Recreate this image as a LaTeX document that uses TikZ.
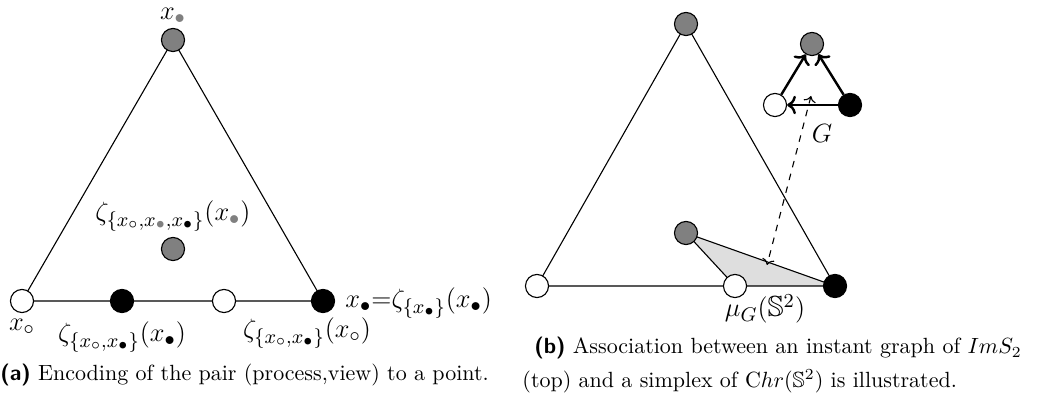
\documentclass[tikz,border=0pt]{standalone}
\usepackage{amssymb}
\usepackage{xcolor}
\usetikzlibrary{arrows.meta}
\begin{document}
\begin{tikzpicture}[x=0.4545pt,y=-0.4545pt,
  dot/.style={circle,draw,line width=0.5pt,minimum size=10.5pt,inner sep=0pt},
  wdot/.style={dot,fill=white},
  bdot/.style={dot,fill=black},
  gdot/.style={dot,fill=gray},
  edge/.style={line width=0.5pt},
  garrow/.style={line width=1.1pt,->},
  lbl/.style={inner sep=0pt,font=\fontsize{13.2}{16}\selectfont}]
\useasboundingbox (0,0) rectangle (1051,408);
% ---------- (a) ----------
\draw[edge] (173,40) -- (22,301) -- (323,301) -- cycle;
\node[gdot] (aTop) at (173,40) {};
\node[wdot] (aL) at (22,301) {};
\node[bdot] (aB1) at (122,301) {};
\node[wdot] (aW1) at (224,301) {};
\node[bdot] (aR) at (323,301) {};
\node[gdot] (aC) at (173,249) {};
\node[lbl] (lTop) at (173,16) {$x_{\textcolor{gray}{\bullet}}$};
\node[lbl] (lC) at (173,216) {$\zeta_{\{x_\circ,x_{\textcolor{gray}{\bullet}},x_\bullet\}}(x_{\textcolor{gray}{\bullet}})$};
\node[lbl] (lL) at (22,327) {$x_\circ$};
\node[lbl] (lB1) at (122,337) {$\zeta_{\{x_\circ,x_\bullet\}}(x_\bullet)$};
\node[lbl] (lW1) at (307,333) {$\zeta_{\{x_\circ,x_\bullet\}}(x_\circ)$};
\node[lbl,anchor=west] (lR) at (345,303) {$x_\bullet{=}\zeta_{\{x_\bullet\}}(x_\bullet)$};
\node[inner sep=0pt,anchor=base west] (capA) at (0,380) {{\sffamily\bfseries (a)} Encoding of the pair (process,view) to a point.};
% ---------- (b) ----------
\fill[black!13] (686,233) -- (735,286) -- (835,286) -- cycle;
\draw[edge] (686,233) -- (735,286);
\draw[edge] (686,233) -- (835,286);
\draw[edge] (686,24) -- (537,286) -- (835,286) -- cycle;
\node[gdot] (bTop) at (686,24) {};
\node[wdot] (bL) at (537,286) {};
\node[wdot] (bW) at (735,286) {};
\node[bdot] (bR) at (835,286) {};
\node[gdot] (bC) at (686,233) {};
\node[gdot] (gG) at (812,44) {};
\node[wdot] (gW) at (775,105) {};
\node[bdot] (gB) at (850,105) {};
\draw[garrow] (gW) -- (gG);
\draw[garrow] (gB) -- (gG);
\draw[garrow] (gB) -- (gW);
\coordinate (dTop) at (811,96);
\coordinate (dBot) at (767,265);
\draw[edge,dashed,<->] (dTop) -- (dBot);
\node[lbl] (lG) at (822,133) {$G$};
\node[lbl] (lMu) at (765,309) {$\mu_G(\mathbb{S}^2)$};
\node[inner sep=0pt,anchor=base west] (capB1) at (534,354) {{\sffamily\bfseries (b)} Association between an instant graph of $ImS_2$};
\node[inner sep=0pt,anchor=base west] (capB2) at (522,387) {(top) and a simplex of $\mathrm{C}hr(\mathbb{S}^2)$ is illustrated.};
\end{tikzpicture}
\end{document}
